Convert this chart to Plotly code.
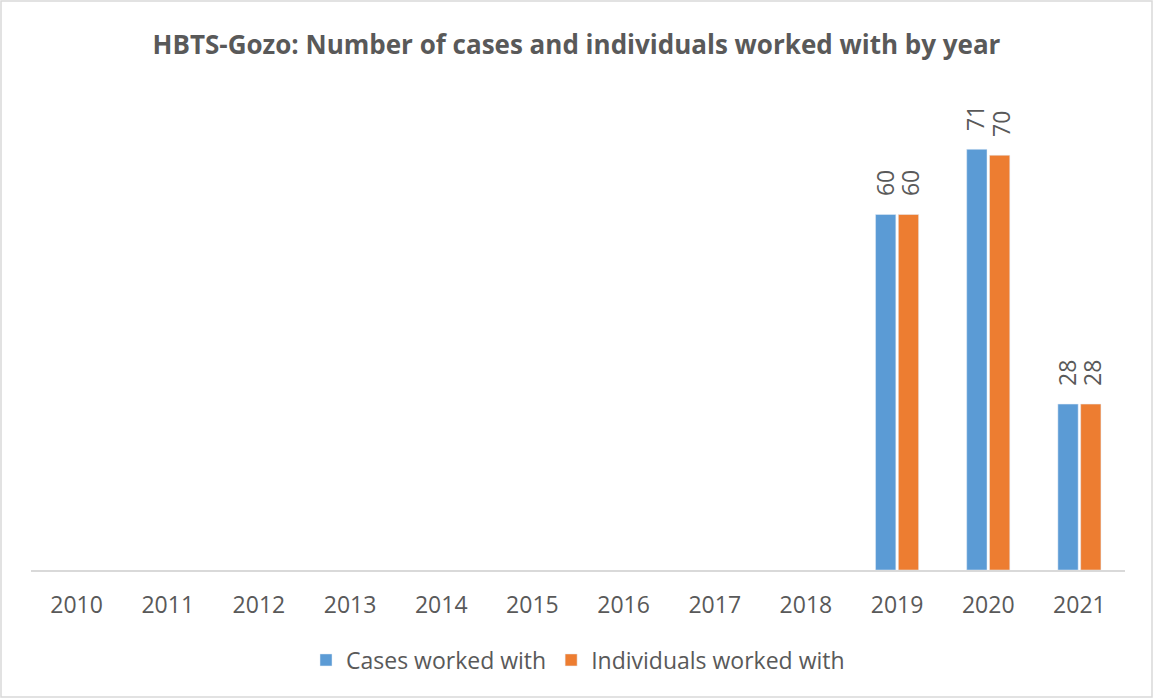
import plotly.graph_objects as go

years = ["2010", "2011", "2012", "2013", "2014", "2015", "2016", "2017", "2018", "2019", "2020", "2021"]
cases = [None, None, None, None, None, None, None, None, None, 60, 71, 28]
individuals = [None, None, None, None, None, None, None, None, None, 60, 70, 28]

W, H = 1153, 698
L, R, T, B = 31, 28, 96, 128
pw, ph = W - L - R, H - T - B

font_fam = "Open Sans, Liberation Sans, sans-serif"
gray = "#595959"

fig = go.Figure()
fig.add_trace(go.Bar(x=years, y=cases, name="Cases worked with", marker_color="#5B9BD5"))
fig.add_trace(go.Bar(x=years, y=individuals, name="Individuals worked with", marker_color="#ED7D31"))

annotations = []
for series, shift in ((cases, -12.5), (individuals, 12.5)):
    for i, v in enumerate(series):
        if v is None:
            continue
        # category index i on the category axis
        annotations.append(dict(x=i, y=v, xref="x", yref="y", text=str(v), showarrow=False,
                                textangle=-90, xshift=shift, yshift=16, yanchor="bottom",
                                xanchor="center",
                                font=dict(size=23, color=gray, family=font_fam)))

fig.update_layout(
    width=W, height=H,
    margin=dict(l=L, r=R, t=T, b=B),
    paper_bgcolor="white", plot_bgcolor="white",
    barmode="group", bargap=0.5, bargroupgap=0.11,
    title=dict(text="<b>HBTS-Gozo: Number of cases and individuals worked with by year</b>",
               x=0.5, xanchor="center", y=1 - 45 / H, yanchor="middle",
               font=dict(size=26, color=gray, family=font_fam)),
    xaxis=dict(type="category", categoryorder="array", categoryarray=years,
               range=[-0.5, len(years) - 0.5],
               showline=True, linecolor="#D9D9D9", linewidth=1.5, ticks="",
               tickfont=dict(size=23, color=gray, family=font_fam), ticklabelstandoff=14,
               showgrid=False),
    yaxis=dict(range=[0, 80], visible=False, showgrid=False),
    legend=dict(orientation="h", x=0.5, xanchor="center", y=-(660 - 570) / ph, yanchor="middle",
                font=dict(size=23, color=gray, family=font_fam), itemwidth=30),
    showlegend=True,
    annotations=annotations,
    shapes=[dict(type="rect", xref="paper", yref="paper",
                 x0=-(L - 1) / pw, x1=1 + (R - 1) / pw, y0=-(B - 1) / ph, y1=1 + (T - 1) / ph,
                 line=dict(color="#D9D9D9", width=1.5))],
)

fig.write_html("out.html", config={"displayModeBar": False},
               post_script="document.body.style.margin='0';")
